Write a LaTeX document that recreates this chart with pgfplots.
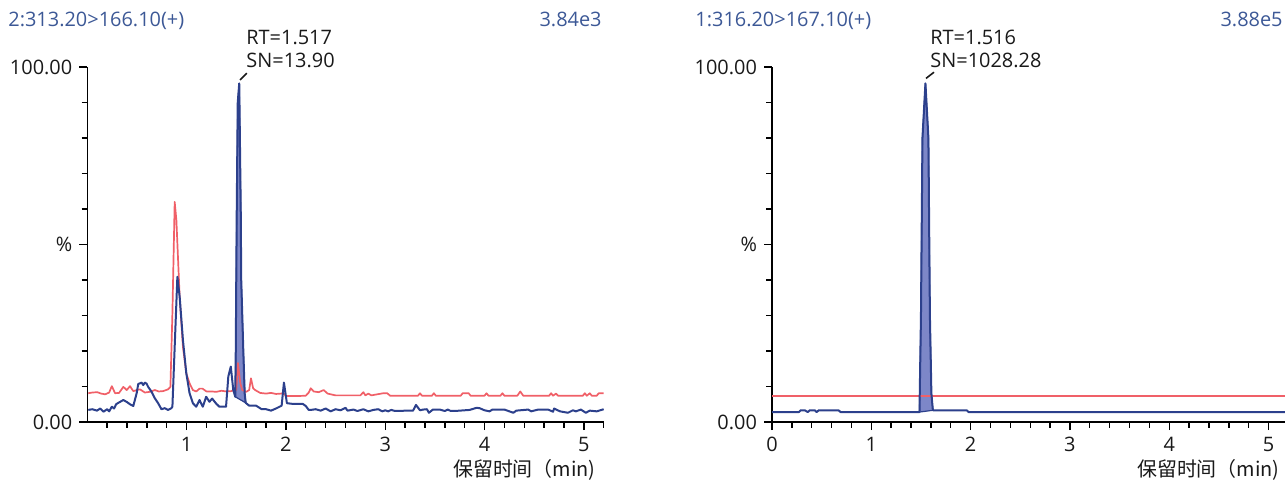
\documentclass[border=0pt]{standalone}
\usepackage{fontspec}
\setmainfont{Open Sans}
\newfontfamily\cjk{Noto Sans CJK SC}
\usepackage{pgfplots}
\pgfplotsset{compat=1.18}
\definecolor{ttl}{RGB}{60,88,150}
\definecolor{bl}{RGB}{44,64,140}
\definecolor{fl}{RGB}{125,135,200}
\definecolor{rd}{RGB}{240,96,104}
\pgfplotsset{chrom/.style={
  scale only axis, width=258.2bp, height=177.5bp,
  xmin=0, xmax=5.2, ymin=0, ymax=100,
  axis x line*=bottom, axis y line*=left,
  axis line style={-, line width=0.8bp, black},
  tick align=outside, tick style={black, line width=0.7bp},
  major tick length=4bp, minor tick length=2.8bp,
  ytick={0,50,100}, yticklabels={0.00,\%,100.00},
  minor ytick={10,20,30,40,60,70,80,90},
  minor xtick={0.2,0.4,0.6,0.8,1.2,1.4,1.6,1.8,2.2,2.4,2.6,2.8,3.2,3.4,3.6,3.8,4.2,4.4,4.6,4.8,5.2},
  tick label style={font=\fontsize{10}{12}\selectfont, text=black!90},
  /pgf/number format/assume math mode=true,
  clip=false,
}}
\begin{document}
\begin{tikzpicture}
% ---------------- left panel ----------------
\begin{axis}[chrom, at={(43.65bp,30.5bp)}, anchor=south west, xtick={1,2,3,4,5}]
\addplot[fill=fl, draw=bl, line width=0.6bp] coordinates {
(1.49,7.1)(1.495,20)(1.505,60)(1.515,90)(1.53,95.4)(1.545,60)(1.55,40)(1.57,21)(1.585,8)(1.595,5.4)} -- cycle;
\addplot[color=rd, line width=0.85bp, line join=round] coordinates {
(0.01,8.1)(0.05,8.3)(0.1,8.4)(0.14,8.0)(0.18,7.8)(0.22,8.3)(0.247,10.1)(0.28,8.1)(0.32,8.2)(0.363,9.9)(0.397,9.0)(0.43,10.1)(0.463,8.7)(0.5,9.0)(0.53,9.2)(0.58,8.3)(0.63,8.5)(0.68,9.0)(0.72,8.6)(0.763,8.7)(0.813,9.2)(0.837,9.9)(0.857,30.6)(0.88,62)(0.897,56.9)(0.93,35.3)(0.963,21.2)(0.997,13.7)(1.03,10.9)(1.063,9.0)(1.097,8.6)(1.13,9.4)(1.16,9.4)(1.2,8.6)(1.25,8.6)(1.3,8.5)(1.35,8.8)(1.4,8.6)(1.45,8.7)(1.48,9.0)(1.5,9.0)(1.517,16.6)(1.54,11)(1.56,9.0)(1.6,8.5)(1.63,9)(1.648,12.3)(1.67,9.5)(1.69,9.0)(1.74,8.2)(1.8,8.0)(1.85,8.2)(1.9,7.9)(1.95,8.0)(1.98,8.0)(2.0,7.3)(2.1,7.3)(2.2,7.4)(2.23,8.3)(2.25,9.5)(2.28,8.6)(2.33,8.4)(2.38,9.0)(2.42,8.0)(2.5,7.5)(2.6,7.5)(2.75,7.5)(2.78,8.4)(2.8,7.5)(2.83,8.0)(2.86,7.5)(2.98,8.1)(3.02,8.1)(3.05,7.4)(3.33,7.4)(3.35,8.1)(3.37,7.4)(3.47,7.4)(3.49,8.1)(3.51,7.4)(3.76,7.4)(3.78,8.1)(3.84,8.1)(3.86,7.4)(4.0,7.4)(4.02,8.1)(4.04,7.4)(4.16,7.4)(4.18,8.1)(4.2,7.4)(4.33,7.4)(4.36,8.6)(4.39,7.4)(4.65,7.4)(4.67,8.1)(4.69,7.4)(4.72,8.0)(4.74,7.4)(4.99,7.4)(5.01,8.1)(5.03,7.4)(5.06,8.1)(5.08,7.4)(5.13,7.4)(5.15,8.1)(5.2,8.1)};
\addplot[color=bl, line width=1bp, line join=round] coordinates {
(0.01,3.4)(0.05,3.6)(0.097,3.2)(0.13,3.8)(0.163,2.9)(0.2,3.6)(0.22,3.0)(0.247,4.3)(0.27,3.8)(0.29,5.0)(0.313,5.4)(0.363,6.2)(0.4,5.6)(0.43,5.0)(0.463,4.5)(0.497,8.1)(0.513,10.7)(0.547,11.1)(0.563,10.4)(0.58,11.1)(0.597,10.8)(0.613,9.9)(0.647,8.5)(0.68,6.7)(0.713,5.3)(0.747,3.6)(0.78,3.9)(0.813,3.4)(0.847,3.9)(0.857,4.3)(0.88,21.2)(0.907,40.9)(0.93,35.3)(0.963,23.1)(0.997,13.7)(1.03,8.1)(1.063,5.3)(1.097,4.3)(1.13,6.2)(1.163,4.3)(1.197,7.1)(1.23,5.7)(1.257,6.6)(1.297,5.2)(1.33,4.3)(1.397,4.3)(1.42,12.8)(1.445,15.6)(1.47,9.0)(1.49,7.1)(1.495,20)(1.505,60)(1.515,90)(1.53,95.4)(1.545,60)(1.55,40)(1.57,21)(1.585,8)(1.595,5.4)(1.63,4.6)(1.7,4.6)(1.756,3.6)(1.8,3.6)(1.85,3.2)(1.9,3.8)(1.957,4.6)(1.98,11.1)(2.01,5.3)(2.07,5.1)(2.17,5.1)(2.2,4.5)(2.23,3.4)(2.25,3.4)(2.3,3.6)(2.35,3.2)(2.4,3.8)(2.45,3.0)(2.5,3.6)(2.55,3.3)(2.6,4.0)(2.62,3.2)(2.68,3.5)(2.72,3.1)(2.78,3.6)(2.83,3.0)(2.88,3.4)(2.93,3.6)(2.97,3.0)(3.0,3.3)(3.03,3.0)(3.06,3.4)(3.1,3.1)(3.15,3.1)(3.2,3.2)(3.28,3.2)(3.31,4.8)(3.35,3.3)(3.38,3.5)(3.42,3.6)(3.44,2.6)(3.48,3.5)(3.55,3.5)(3.6,3.1)(3.63,3.5)(3.66,3.1)(3.7,3.1)(3.8,3.3)(3.85,3.4)(3.92,4.0)(3.95,3.9)(4.0,3.3)(4.05,3.0)(4.08,3.5)(4.2,3.5)(4.29,2.6)(4.32,3.2)(4.44,3.5)(4.47,3.0)(4.54,3.5)(4.64,3.5)(4.69,2.9)(4.7,3.8)(4.76,3.0)(4.84,2.6)(4.89,3.3)(4.92,3.0)(4.97,3.5)(5.02,2.6)(5.06,3.2)(5.13,3.0)(5.2,3.6)};
\end{axis}
% ---------------- right panel ----------------
\begin{axis}[chrom, at={(386bp,30.5bp)}, anchor=south west, xtick={0,1,2,3,4,5}]
\addplot[fill=fl, draw=bl, line width=0.6bp] coordinates {
(1.485,2.8)(1.5,30)(1.515,80)(1.545,95.4)(1.575,80)(1.59,30)(1.605,8)(1.62,3.3)} -- cycle;
\addplot[color=rd, line width=1bp] coordinates {(0,7.45)(1,7.45)(2,7.45)(3,7.45)(4,7.45)(5.2,7.45)};
\addplot[color=bl, line width=1bp, line join=round] coordinates {
(0,2.8)(0.27,2.8)(0.29,3.3)(0.33,3.3)(0.36,2.8)(0.38,3.3)(0.43,3.3)(0.45,2.8)(0.47,3.3)(0.67,3.3)(0.69,2.8)(1.485,2.8)(1.5,30)(1.515,80)(1.545,95.4)(1.575,80)(1.59,30)(1.605,8)(1.62,3.3)(1.96,3.3)(1.98,2.8)(5.2,2.8)};
\end{axis}
% ---------------- texts ----------------
\begin{scope}[every node/.style={inner sep=0pt, font=\fontsize{10}{12}\selectfont}]
\node[anchor=base west, text=ttl] at (4bp,228bp) {2:313.20>166.10(+)};
\node[anchor=base east, text=ttl] at (301bp,228bp) {3.84e3};
\node[anchor=base west, text=ttl] at (347.5bp,228bp) {1:316.20>167.10(+)};
\node[anchor=base east, text=ttl] at (641.5bp,228bp) {3.88e5};
\node[anchor=base west, text=black!90] at (123bp,219.4bp) {RT=1.517};
\node[anchor=base west, text=black!90] at (123bp,207.5bp) {SN=13.90};
\node[anchor=base west, text=black!90] at (465bp,219.4bp) {RT=1.516};
\node[anchor=base west, text=black!90] at (465bp,207.5bp) {SN=1028.28};
\node[anchor=base east, text=black!90] at (298bp,3.2bp) {\cjk 保留时间（min)};
\node[anchor=base east, text=black!90] at (640bp,3.2bp) {\cjk 保留时间（min)};
\end{scope}
\draw[black!90, line width=0.8bp] (120bp,201.5bp) -- (123.4bp,204.9bp);
\draw[black!90, line width=0.8bp] (463bp,202.3bp) -- (467bp,205.4bp);
\pgfresetboundingbox
\path[use as bounding box] (0,0) rectangle (642.5bp,241.5bp);
\end{tikzpicture}
\end{document}
